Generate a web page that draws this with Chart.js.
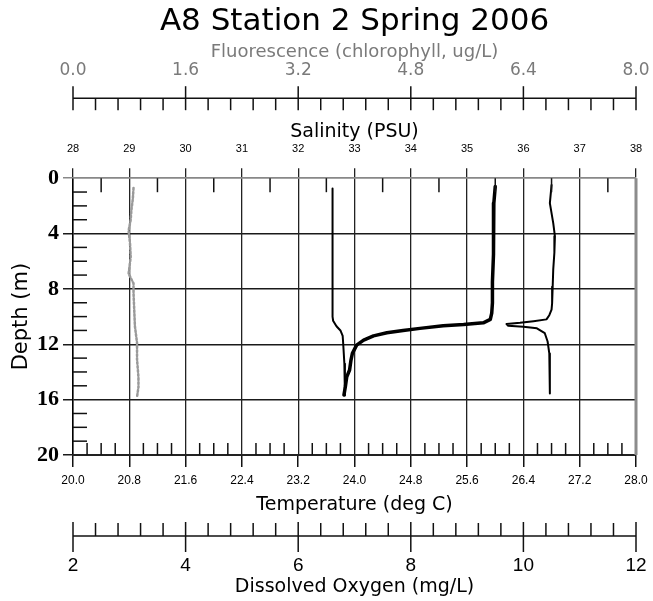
<!DOCTYPE html>
<html>
<head>
<meta charset="utf-8">
<title>A8 Station 2 Spring 2006</title>
<script src="https://cdn.jsdelivr.net/npm/chart.js@4.4.1/dist/chart.umd.min.js"></script>
<style>
  body { margin: 0; background: #fff; }
  canvas { display: block; }
</style>
</head>
<body>
<canvas id="profile" width="653" height="601"></canvas>
<script>
// CTD profile, everything plotted against depth (m)
const tempDepth = [0.6, 1.8, 3.5, 5.5, 7.5, 9.0, 9.75, 10.2, 10.45, 10.57, 10.66, 10.85, 11.0, 11.17, 11.39, 11.7, 12.06, 12.66, 13.14, 13.86, 14.35, 15.07, 15.67];
const tempValues = [26.00, 25.98, 25.98, 25.97, 25.96, 25.96, 25.95, 25.93, 25.83, 25.55, 25.26, 24.93, 24.69, 24.46, 24.27, 24.13, 24.03, 23.97, 23.95, 23.93, 23.89, 23.87, 23.85];

const salDepth = [0.5, 1.8, 3.25, 4.2, 5.4, 6.6, 7.85, 9.05, 9.5, 9.9, 10.2, 10.33, 10.45, 10.54, 10.66, 10.73, 10.85, 11.2, 11.8, 12.66, 14.1, 15.55];
const salValues = [36.50, 36.47, 36.53, 36.56, 36.55, 36.53, 36.52, 36.51, 36.50, 36.46, 36.41, 36.18, 35.94, 35.70, 35.73, 36.00, 36.24, 36.38, 36.43, 36.46, 36.47, 36.47];

const oxyDepth = [0.75, 2, 4, 6, 8, 10, 10.3, 10.7, 11.0, 11.4, 12, 13.4, 14.5, 15.7];
const oxyValues = [6.61, 6.61, 6.61, 6.61, 6.61, 6.61, 6.62, 6.68, 6.75, 6.79, 6.80, 6.82, 6.83, 6.83];

const fluorDepth = [0.7, 1.5, 2.3, 3.0, 3.8, 4.7, 5.7, 6.9, 7.6, 8.3, 9.5, 10.7, 11.9, 13.1, 14.4, 15.1, 15.8];
const fluorValues = [0.86, 0.85, 0.83, 0.82, 0.79, 0.81, 0.82, 0.79, 0.86, 0.86, 0.87, 0.88, 0.91, 0.91, 0.93, 0.93, 0.91];

// axis ranges
const depthRange = [0, 20];
const salRange = [28, 38];
const tempRange = [20, 28];
const fluorRange = [0, 8];
const oxyRange = [2, 12];

function pairs(depths, values)
{
    return depths.map((d, i) => ({ x: values[i], y: d }));
}

// fixed box height, and no extra side padding for the end labels
function boxHeight(h)
{
    return sc => {
        sc.height = h;
        sc.paddingLeft = 0;
        sc.paddingRight = 0;
    };
}

function line(ctx, x1, y1, x2, y2)
{
    ctx.beginPath();
    ctx.moveTo(x1, y1);
    ctx.lineTo(x2, y2);
    ctx.stroke();
}

// minor ticks and the two floating axes (fluorescence / oxygen)
const axisDecor = {
    id: 'axisDecor',
    afterDraw(chart) {
        const ctx = chart.ctx;
        const area = chart.chartArea;
        const s = chart.scales;
        ctx.save();
        ctx.strokeStyle = '#111';
        ctx.lineWidth = 1.5;

        for (let d = 1; d < 20; d++) {
            if (d % 4 === 0) continue;
            const y = s.y.getPixelForValue(d);
            line(ctx, area.left, y, area.left + 14, y);
        }
        for (let v = 28.5; v < 38; v += 1) {
            const x = s.sal.getPixelForValue(v);
            line(ctx, x, area.top, x, area.top + 14);
        }
        for (let i = 1; i < 40; i++) {
            if (i % 4 === 0) continue;
            const x = s.temp.getPixelForValue(20 + i * 0.2);
            line(ctx, x, area.bottom, x, area.bottom - 12);
        }

        const fy = s.fluor.bottom - 18;
        line(ctx, area.left, fy, area.right, fy);
        for (let i = 0; i <= 25; i++) {
            const x = s.fluor.getPixelForValue(i * 0.32);
            if (i % 5 === 0) line(ctx, x, fy - 12, x, fy + 12);
            else line(ctx, x, fy, x, fy + 12);
        }

        const oy = s.oxy.top + 16;
        line(ctx, area.left, oy, area.right, oy);
        for (let i = 0; i <= 25; i++) {
            const x = s.oxy.getPixelForValue(2 + i * 0.4);
            if (i % 5 === 0) line(ctx, x, oy - 14, x, oy + 16);
            else line(ctx, x, oy - 13, x, oy);
        }

        // heavy grey right edge
        ctx.strokeStyle = '#8c8c8c';
        ctx.lineWidth = 3;
        line(ctx, area.right, area.top, area.right, area.bottom);
        ctx.restore();
    }
};

Chart.defaults.font.family = "'DejaVu Sans', sans-serif";
Chart.defaults.color = '#000';

new Chart(document.getElementById('profile'), {
    type: 'scatter',
    data: {
        datasets: [
            { label: 'Fluorescence', data: pairs(fluorDepth, fluorValues), xAxisID: 'fluor', showLine: true,
              borderColor: '#9a9a9a', borderWidth: 2.5, borderDash: [2, 2] },
            { label: 'Salinity', data: pairs(salDepth, salValues), xAxisID: 'sal', showLine: true,
              borderColor: '#000', borderWidth: 2 },
            { label: 'Dissolved Oxygen', data: pairs(oxyDepth, oxyValues), xAxisID: 'oxy', showLine: true,
              borderColor: '#000', borderWidth: 2 },
            { label: 'Temperature', data: pairs(tempDepth, tempValues), xAxisID: 'temp', showLine: true,
              borderColor: '#000', borderWidth: 3.5 }
        ]
    },
    options: {
        responsive: false,
        animation: false,
        elements: { point: { radius: 0 }, line: { tension: 0, borderJoinStyle: 'round', borderCapStyle: 'round' } },
        layout: { padding: { right: 17 } },
        plugins: {
            legend: { display: false },
            tooltip: { enabled: false },
            title: {
                display: true,
                text: 'A8 Station 2 Spring 2006',
                fullSize: false,
                color: '#000',
                font: { size: 31, weight: 'normal' },
                padding: { top: 3, bottom: 1 }
            }
        },
        scales: {
            y: {
                type: 'linear', position: 'left', reverse: true,
                min: depthRange[0], max: depthRange[1],
                afterFit: sc => { sc.width = 73; },
                ticks: { stepSize: 4, padding: 4, color: '#000',
                         font: { family: "'Liberation Serif', serif", size: 22, weight: 'bold' } },
                grid: { color: ctx => ctx.tick && ctx.tick.value === 0 ? '#888' : '#1a1a1a',
                        lineWidth: 1.5, tickLength: 10 },
                border: { color: '#000', width: 1.5 },
                title: { display: true, text: 'Depth (m)', font: { size: 21 }, padding: { top: 9, bottom: 0 } }
            },
            sal: {
                type: 'linear', position: 'top', weight: 1,
                min: salRange[0], max: salRange[1],
                afterFit: boxHeight(62),
                ticks: { stepSize: 1, padding: 13, maxRotation: 0, autoSkip: false,
                         font: { family: "'Liberation Sans', sans-serif", size: 11 } },
                grid: { color: '#222', lineWidth: 1.3, tickLength: 10 },
                border: { color: '#888', width: 1.5 },
                title: { display: true, text: 'Salinity (PSU)', font: { size: 19 }, padding: { top: 4, bottom: 0 } }
            },
            fluor: {
                type: 'linear', position: 'top', weight: 2,
                min: fluorRange[0], max: fluorRange[1],
                afterFit: boxHeight(75),
                ticks: { stepSize: 1.6, padding: 35, maxRotation: 0, autoSkip: false,
                         callback: v => v.toFixed(1), color: '#7a7a7a', font: { size: 17 } },
                grid: { display: false, drawTicks: false },
                border: { display: false },
                title: { display: true, text: 'Fluorescence (chlorophyll, ug/L)', color: '#7a7a7a',
                         font: { size: 18 }, padding: { top: 0, bottom: 0 } }
            },
            temp: {
                type: 'linear', position: 'bottom', weight: 1,
                min: tempRange[0], max: tempRange[1],
                afterFit: boxHeight(65),
                ticks: { stepSize: 0.8, padding: 6, maxRotation: 0, autoSkip: false,
                         callback: v => v.toFixed(1),
                         font: { family: "'Liberation Sans', sans-serif", size: 12 } },
                grid: { drawOnChartArea: false, color: '#111', lineWidth: 1.5, tickLength: 12 },
                border: { color: '#222', width: 2 },
                title: { display: true, text: 'Temperature (deg C)', font: { size: 19 }, padding: { top: 0, bottom: 4 } }
            },
            oxy: {
                type: 'linear', position: 'bottom', weight: 2,
                min: oxyRange[0], max: oxyRange[1],
                afterFit: boxHeight(81),
                ticks: { stepSize: 2, padding: 34, maxRotation: 0, autoSkip: false,
                         font: { family: "'Liberation Sans', sans-serif", size: 19 } },
                grid: { display: false, drawTicks: false },
                border: { display: false },
                title: { display: true, text: 'Dissolved Oxygen (mg/L)', font: { size: 19 }, padding: { top: 0, bottom: 3 } }
            }
        }
    },
    plugins: [axisDecor]
});
</script>
</body>
</html>
